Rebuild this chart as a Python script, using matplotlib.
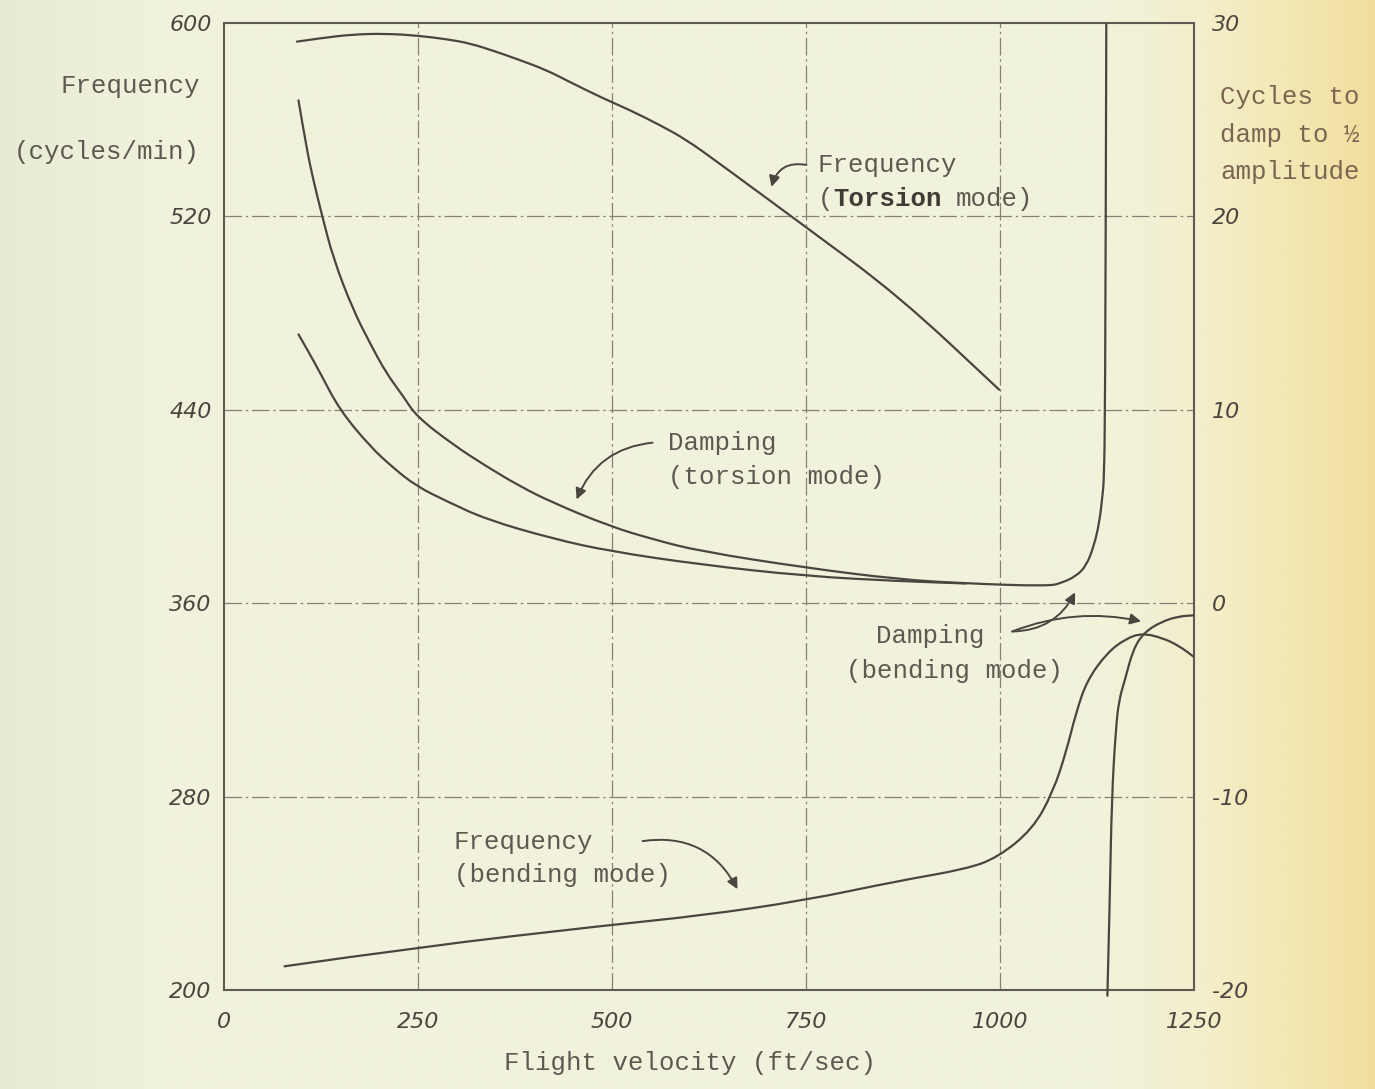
import numpy as np
import matplotlib
matplotlib.use('Agg')
import matplotlib.pyplot as plt
from matplotlib.path import Path
from matplotlib.patches import PathPatch
from matplotlib.transforms import offset_copy

# ---- values ----
# Frequency, torsion mode (cycles/min) vs flight velocity (ft/sec)
torsion_freq_speed = [94, 124, 166, 209, 249, 287, 317, 351, 381, 415, 445, 488, 523,
                      561, 596, 638, 749, 870, 999]
torsion_freq = [592.3, 593.7, 595.3, 595.6, 594.8, 593.3, 591.6, 588.1, 584.7, 580.6,
                575.7, 568.9, 564.0, 557.9, 551.7, 542.0, 515.8, 487.0, 448.3]

# Frequency, bending mode (cycles/min)
bending_freq_speed = [78, 246, 497, 613, 746, 870, 956, 997, 1042, 1068, 1085, 1098,
                      1112, 1138, 1162, 1183, 1209, 1231, 1249]
bending_freq = [209.8, 217.6, 226.9, 230.7, 236.9, 245.2, 250.0, 254.8, 266.5, 281.7,
                298.2, 314.7, 328.0, 339.5, 345.3, 347.6, 345.7, 342.3, 338.0]

# Damping, torsion mode (cycles to damp to 1/2 amplitude)
torsion_damp_speed = [96, 106, 115, 126, 141, 166, 188, 209, 231, 248, 295, 338, 381,
                      424, 497, 553, 613, 750, 870, 956, 1063, 1080, 1098, 1111, 1121,
                      1128, 1132, 1134, 1135.5, 1137]
torsion_damp = [26.0, 23.6, 21.9, 20.1, 17.8, 15.2, 13.45, 11.9, 10.7, 9.66, 8.2, 7.08,
                6.05, 5.19, 3.98, 3.3, 2.69, 1.83, 1.23, 1.02, 0.88, 1.06, 1.40, 1.92,
                2.95, 4.16, 5.53, 6.39, 10.0, 30.0]

# Damping, bending mode: low-speed branch and high-speed branch
bending_damp_speed_lo = [96, 111, 124, 149, 188, 218, 248, 287, 338, 424, 497, 613,
                         750, 870, 956]
bending_damp_lo = [13.9, 12.85, 11.9, 10.0, 8.11, 7.0, 6.05, 5.27, 4.33, 3.33, 2.69,
                   2.0, 1.40, 1.14, 1.02]
bending_damp_speed_hi = [1138.4, 1141.5, 1144, 1149.2, 1153.5, 1161.2, 1171.5, 1185.6,
                         1208.8, 1230.7, 1248.7]
bending_damp_hi = [-20.3, -15.3, -10.1, -6.5, -4.97, -3.94, -2.39, -1.51, -0.94, -0.68,
                   -0.63]

x_ticks = [0, 250, 500, 750, 1000, 1250]
x_ticklabels = ['0', '250', '500', '750', '1000', '1250']
freq_ticks = [200, 280, 360, 440, 520, 600]
cycle_ticks = [-20, -10, 0, 10, 20, 30]
cycle_ticklabels = ['-20', '-10', '0', '10', '20', '30']

INK = '#4a463f'
TYPE = '#5d5951'
GRID = '#858174'
MONO = ['Liberation Mono', 'DejaVu Sans Mono']
FS = 18.5


def curve(axis, xs, ys, **kw):
    # pen-drawn look: quadratic pieces through the midpoints of the read points
    pts = np.column_stack([xs, ys])
    verts = [pts[0]]
    codes = [Path.MOVETO]
    for i in range(1, len(pts) - 1):
        verts += [pts[i], (pts[i] + pts[i + 1]) / 2]
        codes += [Path.CURVE3, Path.CURVE3]
    verts.append(pts[-1])
    codes.append(Path.LINETO)
    patch = PathPatch(Path(verts, codes), facecolor='none', edgecolor=INK, lw=1.6,
                      capstyle='round', joinstyle='round', **kw)
    axis.add_patch(patch)


fig = plt.figure(figsize=(13.75, 10.89), dpi=100)
fig.patch.set_facecolor('#f1f2dc')

# paper background, yellowing towards the right edge
bg = fig.add_axes([0, 0, 1, 1], zorder=-5)
xs = np.linspace(0, 1, 600)
stops = [0.0, 0.12, 0.8, 0.87, 0.94, 1.0]
cols = np.array([[232, 235, 212], [241, 242, 220], [242, 242, 219],
                 [243, 239, 205], [243, 231, 178], [241, 222, 158]]) / 255.0
grad = np.stack([np.interp(xs, stops, cols[:, k]) for k in range(3)], axis=-1)
bg.imshow(grad[np.newaxis, :, :], aspect='auto', extent=[0, 1, 0, 1])
bg.set_axis_off()

ax = fig.add_axes([224 / 1375, 1 - 990 / 1089, 970 / 1375, 967 / 1089])
ax.patch.set_visible(False)
ax.set_xlim(0, 1250)
ax.set_ylim(200, 600)
ax2 = ax.twinx()
ax2.set_ylim(-20, 30)

for s in ax.spines.values():
    s.set_color('#5f5b52')
    s.set_linewidth(1.5)
for s in ax2.spines.values():
    s.set_visible(False)

# dash-dot grid
for xv in x_ticks[1:-1]:
    ax.axvline(xv, color=GRID, lw=0.9, ls=(0, (14, 3, 2, 3)), zorder=1)
for yv in freq_ticks[1:-1]:
    ax.axhline(yv, color=GRID, lw=0.9, ls=(0, (14, 3, 2, 3)), zorder=1)

curve(ax, torsion_freq_speed, torsion_freq)
curve(ax, bending_freq_speed, bending_freq)
curve(ax2, torsion_damp_speed, torsion_damp)
curve(ax2, bending_damp_speed_lo, bending_damp_lo)
curve(ax2, bending_damp_speed_hi, bending_damp_hi, clip_on=False)

tick_font = dict(family='DejaVu Sans', style='italic', size=16, color=INK)
ax.set_xticks(x_ticks)
ax.set_xticklabels(x_ticklabels, **tick_font)
ax.set_yticks(freq_ticks)
ax.set_yticklabels([str(v) for v in freq_ticks], **tick_font)
ax2.set_yticks(cycle_ticks)
ax2.set_yticklabels(cycle_ticklabels, **tick_font)
ax.tick_params(axis='x', length=0, pad=16)
ax.tick_params(axis='y', length=0, pad=9)
ax2.tick_params(axis='y', length=0, pad=13)

# axis titles
fig.text(690 / 1375, 1 - 1063 / 1089, 'Flight velocity (ft/sec)', family=MONO,
         size=FS, color=TYPE, ha='center', va='center')
fig.text(200 / 1375, 1 - 86 / 1089, 'Frequency', family=MONO, size=FS,
         color=TYPE, ha='right', va='center')
fig.text(200 / 1375, 1 - 152 / 1089, '(cycles/min)', family=MONO, size=FS,
         color=TYPE, ha='right', va='center')
for txt, py in [('Cycles to', 97), ('damp to ½', 135), ('amplitude', 172)]:
    fig.text(1220 / 1375, 1 - py / 1089, txt, family=MONO, size=FS,
             color='#7a6650', ha='left', va='center')

# curve labels
lab = dict(family=MONO, size=FS, color=TYPE, ha='left', zorder=5)
ax.text(764.7, 541.3, 'Frequency', va='center', **lab)
# "(Torsion mode)" with the word Torsion typed in bold; monospace advance is 0.6 em
adv = 0.6 * FS
ax.text(764.7, 524.1, '(', va='baseline', **lab)
ax.text(764.7, 524.1, 'Torsion', va='baseline', weight='bold',
        transform=offset_copy(ax.transData, fig=fig, x=adv, units='points'),
        **{**lab, 'color': '#3f3b35'})
ax.text(764.7, 524.1, 'mode)', va='baseline',
        transform=offset_copy(ax.transData, fig=fig, x=9 * adv, units='points'), **lab)
ax.text(571.6, 426.4, 'Damping', va='center', **lab)
ax.text(571.6, 412.0, '(torsion mode)', va='center', **lab)
ax.text(840.6, 346.3, 'Damping', va='center', **lab)
ax.text(802.0, 331.8, '(bending mode)', va='center', **lab)
ax.text(296.0, 261.2, 'Frequency', va='center', **lab)
ax.text(296.0, 247.5, '(bending mode)', va='center', **lab)

# hand-drawn style pointer arrows
arr = dict(arrowstyle='-|>', color=INK, lw=1.4, mutation_scale=16, shrinkA=0, shrinkB=0)
ax.annotate('', xy=(705.5, 532.2), xytext=(750.5, 541.3),
            arrowprops=dict(connectionstyle='arc3,rad=0.45', **arr))
ax.annotate('', xy=(454.4, 402.9), xytext=(552.3, 426.4),
            arrowprops=dict(connectionstyle='arc3,rad=0.3', **arr))
ax.annotate('', xy=(661.7, 241.7), xytext=(539.4, 261.6),
            arrowprops=dict(connectionstyle='arc3,rad=-0.35', **arr))
ax.annotate('', xy=(1096.8, 364.5), xytext=(1015.7, 348.3),
            arrowprops=dict(connectionstyle='arc3,rad=0.3', **arr))
ax.annotate('', xy=(1181.8, 352.5), xytext=(1015.7, 348.3),
            arrowprops=dict(connectionstyle='arc3,rad=-0.15', **arr))

fig.savefig('out.png', dpi=100, facecolor=fig.get_facecolor())
